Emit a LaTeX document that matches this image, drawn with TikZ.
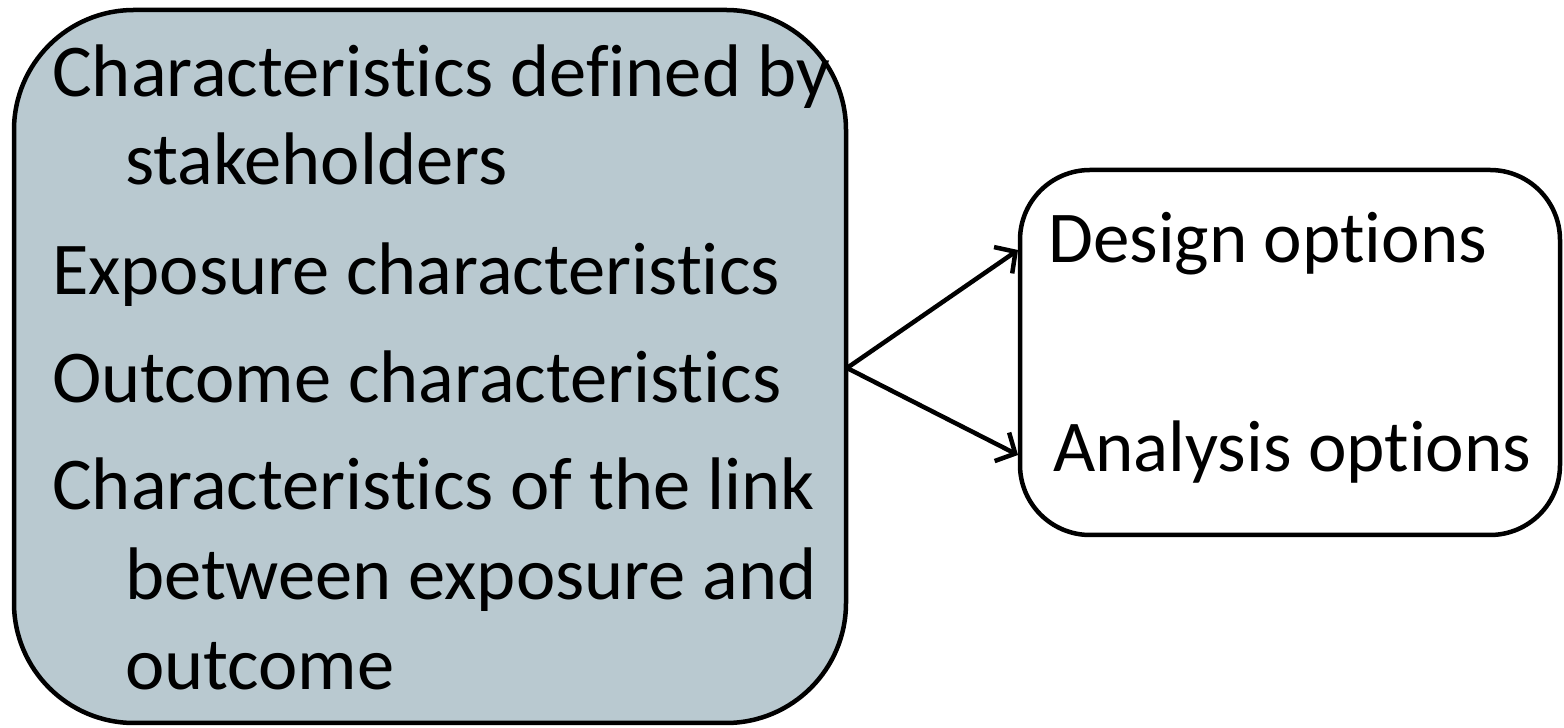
\documentclass[tikz,border=0pt]{standalone}
\usepackage{fontspec}
\setmainfont[Ligatures=NoCommon,RawFeature={-liga;-clig;-dlig}]{Carlito}
\usetikzlibrary{arrows.meta}
\definecolor{boxfill}{RGB}{185,201,208}
\begin{document}
\begin{tikzpicture}[x=1pt,y=1pt,
  box/.style={draw=black, line width=4.5pt, inner sep=0pt},
  big/.style={anchor=base west, inner sep=0pt, font=\fontsize{74.5}{90}\selectfont},
  small/.style={anchor=base west, inner sep=0pt, font=\fontsize{73}{90}\selectfont},
  conn/.style={line width=4.5pt, -{Straight Barb[length=15pt,width=32pt,line width=4.5pt]}}]
\useasboundingbox (0,0) rectangle (1564,728);
\node[box, fill=boxfill, rounded corners=120pt, minimum width=832pt, minimum height=713pt] (L) at (430,361.5) {};
\node[box, fill=white, rounded corners=70pt, minimum width=540pt, minimum height=365pt] (R) at (1290,375.5) {};
\node[big] (t1) at (52,631) {Characteristics defined by};
\node[big] (t2) at (125,543) {stakeholders};
\node[big] (t3) at (52,433) {Exposure characteristics};
\node[big] (t4) at (52,325) {Outcome characteristics};
\node[big] (t5) at (52,218) {Characteristics of the link};
\node[big] (t6) at (125,128) {between exposure and};
\node[big] (t7) at (125,38) {outcome};
\node[small] (d) at (1048,465) {Design options};
\node[small] (a) at (1053,256) {Analysis options};
\coordinate (o) at (847,360);
\coordinate (e1) at (1018,478);
\coordinate (e2) at (1018,273);
\draw[conn] (o) -- (e1);
\draw[conn] (o) -- (e2);
\end{tikzpicture}
\end{document}
